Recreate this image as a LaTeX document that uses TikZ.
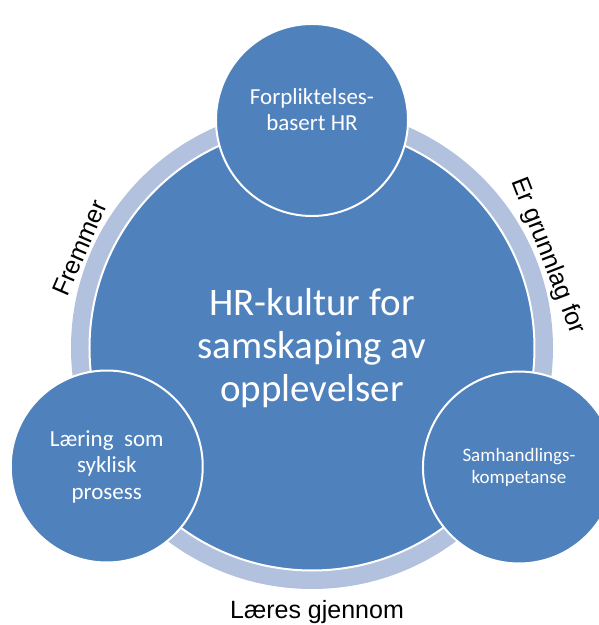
\documentclass[tikz,border=0pt]{standalone}
\usepackage{fontspec}
\setmainfont{Carlito}
\newfontfamily\arialfont{Liberation Sans}
\definecolor{hrblue}{HTML}{4F81BD}
\definecolor{hrring}{HTML}{B2C1DD}
\tikzset{
  hub/.style={circle, draw=white, line width=2pt, fill=hrblue, minimum size=445pt,
    inner sep=0pt, text=white, align=center, font=\fontsize{39}{43}\selectfont},
  sat/.style={circle, draw=white, line width=2pt, fill=hrblue, minimum size=192pt,
    inner sep=0pt, text=white, align=center, font=\fontsize{23}{26.5}\selectfont},
  satsmall/.style={sat, font=\fontsize{19}{22}\selectfont},
  satlabel/.style={text=white, align=center, font=\fontsize{23}{26}\selectfont},
  ringlabel/.style={font=\arialfont\fontsize{25}{30}\selectfont}
}
\begin{document}
\begin{tikzpicture}[x=1pt, y=1pt]
  \useasboundingbox (-312,-277) rectangle (287,348);
  \clip (-312,-277) rectangle (287,348);
  \fill[hrring] (0,0) circle (241pt);
  \draw
    (0,0) node[hub] (hub) {HR-kultur for\\samskaping av\\opplevelser}
    (90:228) node[sat] (commit) {}
    (210:237) node[sat] (learn) {Læring\ \ som\\syklisk\\prosess}
    (330:239) node[satsmall] (interact) {Samhandlings-\\kompetanse};
  \node[satlabel] (committext) at (90:238) {Forpliktelses-\\basert HR};
  \node[ringlabel, rotate=66.7] (promotes) at (156.7:253) {Fremmer};
  \node[ringlabel, rotate=-68.7] (basis) at (21.3:253) {Er grunnlag for};
  \node[ringlabel] (learnedby) at (271.1:264.5) {Læres gjennom};
\end{tikzpicture}
\end{document}
